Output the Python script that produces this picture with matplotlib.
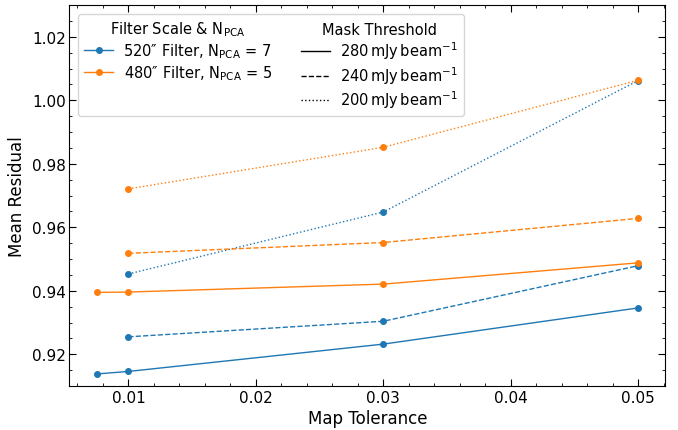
import numpy as np
import matplotlib.pyplot as plt
from matplotlib.lines import Line2D

# Mean residual vs map tolerance, per filter scale and mask threshold
tol_520 = [0.0075, 0.01, 0.03, 0.05]
tol_520_other = [0.01, 0.03, 0.05]
tol_480 = [0.0075, 0.01, 0.03, 0.05]
tol_480_other = [0.01, 0.03, 0.05]

res_520_280 = [0.9138, 0.9146, 0.9232, 0.9346]
res_520_240 = [0.9255, 0.9304, 0.9479]
res_520_200 = [0.9453, 0.9648, 1.0062]

res_480_280 = [0.9395, 0.9396, 0.9421, 0.9488]
res_480_240 = [0.9518, 0.9552, 0.9628]
res_480_200 = [0.9721, 0.9852, 1.0063]

blue = 'tab:blue'
orange = 'tab:orange'

fig, ax = plt.subplots(figsize=(6.78, 4.31), dpi=100)

kw = dict(marker='o', ms=4, lw=1)
ax.plot(tol_520, res_520_280, '-', color=blue, **kw)
ax.plot(tol_520_other, res_520_240, '--', color=blue, **kw)
ax.plot(tol_520_other, res_520_200, ':', color=blue, **kw)
ax.plot(tol_480, res_480_280, '-', color=orange, **kw)
ax.plot(tol_480_other, res_480_240, '--', color=orange, **kw)
ax.plot(tol_480_other, res_480_200, ':', color=orange, **kw)

ax.set_ylim(0.91, 1.03)
ax.set_xticks([0.01, 0.02, 0.03, 0.04, 0.05])
ax.set_xticklabels(['0.01', '0.02', '0.03', '0.04', '0.05'])
ax.set_yticks([0.92, 0.94, 0.96, 0.98, 1.00, 1.02])
ax.set_yticklabels(['0.92', '0.94', '0.96', '0.98', '1.00', '1.02'])
ax.minorticks_on()
ax.tick_params(which='both', direction='in', top=True, right=True,
               labelsize=11, pad=2.5)
ax.tick_params(which='major', length=5)
ax.tick_params(which='minor', length=2.5)
ax.set_xlabel('Map Tolerance', fontsize=12, labelpad=3)
ax.set_ylabel('Mean Residual', fontsize=12, labelpad=4)

blank = Line2D([], [], lw=0, alpha=0)
handles = [
    blank,
    Line2D([], [], color=blue, marker='o', ms=4, lw=1),
    Line2D([], [], color=orange, marker='o', ms=4, lw=1),
    blank,
    blank,
    Line2D([], [], color='k', ls='-', lw=1),
    Line2D([], [], color='k', ls='--', lw=1),
    Line2D([], [], color='k', ls=':', lw=1),
]
labels = [
    r'Filter Scale & N$_{\mathrm{PCA}}$',
    r'520″ Filter, N$_{\mathrm{PCA}}$ = 7',
    r'480″ Filter, N$_{\mathrm{PCA}}$ = 5',
    '',
    'Mask Threshold',
    r'$280\,\mathrm{mJy\,beam^{-1}}$',
    r'$240\,\mathrm{mJy\,beam^{-1}}$',
    r'$200\,\mathrm{mJy\,beam^{-1}}$',
]
leg = ax.legend(handles, labels, ncol=2, loc='upper left', fontsize=10.5,
                handlelength=2.0, handletextpad=0.7, columnspacing=2.0,
                labelspacing=0.2, borderaxespad=0.6)

# center the columns and drop handle boxes on header entries
cols = leg._legend_handle_box.get_children()
for col in cols:
    col.align = 'center'
    items = col.get_children()
    items[0]._children = [items[0]._children[1]]

fig.subplots_adjust(left=0.1025, right=0.981, top=0.986, bottom=0.102)
fig.savefig('out.png')
